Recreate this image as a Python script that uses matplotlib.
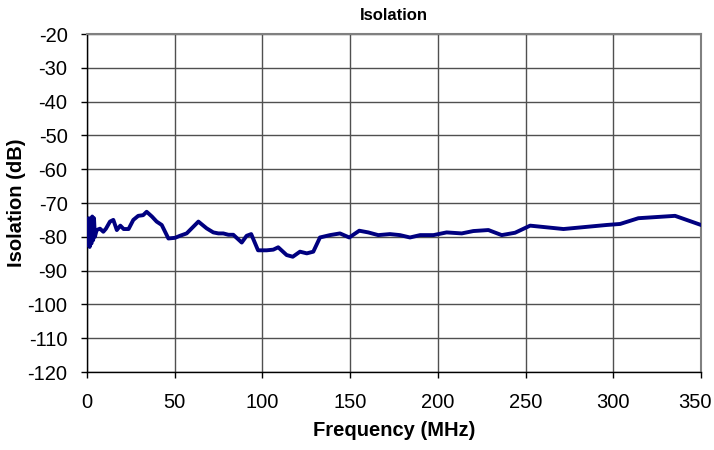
import matplotlib
matplotlib.use("Agg")
import matplotlib.pyplot as plt
import matplotlib.transforms as mtransforms

plt.rcParams['font.family'] = ['Liberation Sans', 'DejaVu Sans']
plt.rcParams['axes.unicode_minus'] = False

freq_mhz = [0, 0.5, 1, 1.5, 2, 2.5, 3, 3.5, 4, 4.5, 5.5, 7.4, 9.3, 10.8, 13.1, 15, 17, 19,
            20.9, 23.7, 26.4, 29.2, 32, 34, 37, 39.7, 42.6, 46.4, 50.2, 53, 56.8, 63.5,
            68.2, 72, 74.9, 77.7, 80.6, 83.4, 88.2, 91, 93.6, 97.5, 102.4, 106.2, 109,
            113.8, 117.3, 121.4, 125.3, 129, 132.8, 138.5, 144.2, 149.5, 155.2, 160.3,
            166, 172.7, 178.4, 184.1, 189.9, 197.5, 205, 213.6, 220.2, 228.8, 236.4,
            244, 252.6, 271.6, 296.3, 303.9, 314.3, 335.2, 350]
isolation_db = [-75, -82.5, -74.5, -83, -75, -82, -74, -81, -74.5, -80, -78, -77.6, -78.5,
                -77.6, -75.5, -75, -78, -76.7, -77.7, -77.7, -75, -73.8, -73.6, -72.6, -74,
                -75.5, -76.5, -80.5, -80.3, -79.7, -79, -75.5, -77.5, -78.7, -79, -79,
                -79.4, -79.4, -81.7, -79.7, -79.2, -84, -84, -83.8, -83.1, -85.4, -85.9,
                -84.4, -84.9, -84.4, -80.2, -79.5, -79, -80.2, -78.2, -78.7, -79.5, -79.2,
                -79.5, -80.2, -79.5, -79.5, -78.7, -79, -78.3, -78, -79.5, -78.8, -76.7,
                -77.7, -76.5, -76.2, -74.5, -73.8, -76.5]
x_ticks = [0, 50, 100, 150, 200, 250, 300, 350]
y_ticks = [-120, -110, -100, -90, -80, -70, -60, -50, -40, -30, -20]

fig = plt.figure(figsize=(7.14, 4.5), dpi=100)
ax = fig.add_axes([87/714, 1-372/450, (701-87)/714, (372-34)/450])

ax.plot(freq_mhz, isolation_db, color='#000080', linewidth=2.8, solid_joinstyle='round', zorder=3)

ax.set_xlim(0, 350)
ax.set_ylim(-120, -20)
ax.set_xticks(x_ticks)
ax.set_yticks(y_ticks)
ax.grid(True, color='#505050', linewidth=1.0)
ax.set_axisbelow(True)

for s in ['left', 'bottom']:
    ax.spines[s].set_color('black')
    ax.spines[s].set_linewidth(1.0)
for s in ['top', 'right']:
    ax.spines[s].set_color('#808080')
    ax.spines[s].set_linewidth(1.5)

ax.tick_params(axis='both', direction='out', length=4, width=1, labelsize=14.5)
ax.tick_params(axis='y', pad=10)
ax.tick_params(axis='x', pad=11)

# nudge the last x tick label so it stays inside the figure
last_lbl = ax.get_xticklabels()[-1]
last_lbl.set_transform(last_lbl.get_transform() +
                       mtransforms.ScaledTranslation(-6/100, 0, fig.dpi_scale_trans))

ax.set_xlabel('Frequency (MHz)', fontsize=14.5, fontweight='bold')
ax.set_ylabel('Isolation (dB)', fontsize=14.5, fontweight='bold')
ax.xaxis.set_label_coords(0.5, -(430 - 372) / 338, transform=ax.transAxes)
ax.xaxis.label.set_va('center')
ax.yaxis.set_label_coords(-(87 - 16.5) / 614, 0.5, transform=ax.transAxes)
ax.yaxis.label.set_va('center')
ax.set_title('Isolation', fontsize=12, fontweight='bold', pad=10)

fig.savefig('out.png', dpi=100)
